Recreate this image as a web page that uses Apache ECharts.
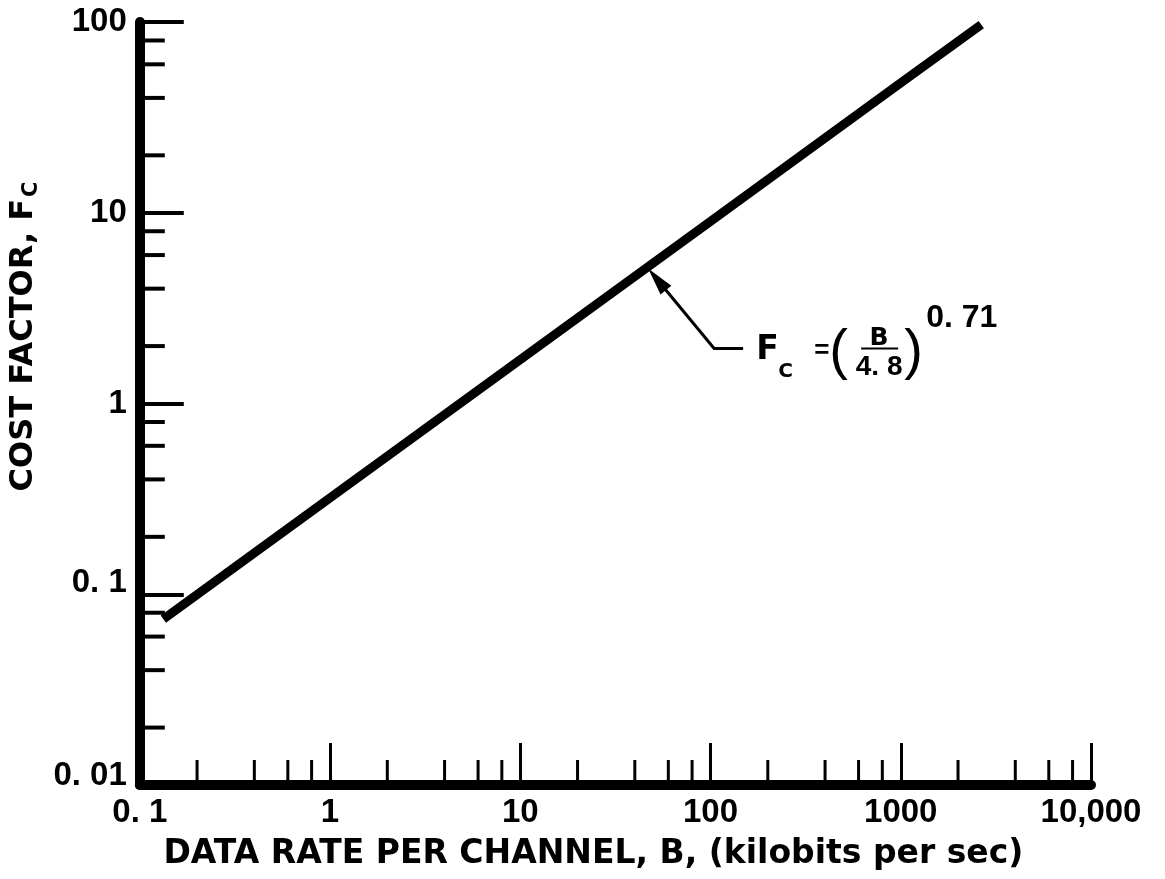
<!DOCTYPE html>
<html>
<head>
<meta charset="utf-8">
<script src="https://cdn.jsdelivr.net/npm/echarts@6/dist/echarts.min.js"></script>
<style>
  html, body { margin: 0; padding: 0; background: #ffffff; }
  #chart { width: 1165px; height: 879px; }
</style>
</head>
<body>
<div id="chart"></div>
<script>
// Cost factor against data rate per channel
const rateKbps   = [0.133, 1, 10, 100, 1000, 2650];
const costFactor = [0.074, 0.32, 1.7, 9.0, 48, 97];

// Decade ticks and their printed labels
const xTickValues = [0.1, 1, 10, 100, 1000, 10000];
const xTickLabels = ['0. 1', '1', '10', '100', '1000', '10,000'];
const yTickValues = [0.01, 0.1, 1, 10, 100];
const yTickLabels = ['0. 01', '0. 1', '1', '10', '100'];

// Intermediate (minor) tick mantissas within each decade
const minorMantissas = [2, 4, 6, 8];

// Point on the curve that the formula callout points at
const calloutPoint = [47, 5.1];

const X_MIN = 0.1, X_MAX = 10000, Y_MIN = 0.01, Y_MAX = 100;

function decadeMinors(lo, hi) {
  const out = [];
  for (let e = Math.round(Math.log10(lo)); e < Math.round(Math.log10(hi)); e++) {
    for (const m of minorMantissas) out.push(+(m * Math.pow(10, e)).toPrecision(6));
  }
  return out;
}
const xMinor = decadeMinors(X_MIN, X_MAX);
const yMinor = decadeMinors(Y_MIN, Y_MAX);

function indexOfTick(values, v) {
  for (let i = 0; i < values.length; i++) {
    if (Math.abs(Math.log10(v) - Math.log10(values[i])) < 1e-6) return i;
  }
  return -1;
}

const INK = '#000000';
const NUM_FONT = '"Liberation Sans", Arial, sans-serif';
const TITLE_FONT = '"DejaVu Sans", "Liberation Sans", sans-serif';
const LABEL_SIZE = 33;

const chart = echarts.init(document.getElementById('chart'), null, { renderer: 'canvas' });

const option = {
  backgroundColor: '#ffffff',
  animation: false,
  grid: { left: 133, right: 74, top: 22, bottom: 94, containLabel: false },
  xAxis: {
    type: 'log',
    logBase: 10,
    min: X_MIN,
    max: X_MAX,
    splitNumber: 5,
    name: 'DATA RATE PER CHANNEL, B, (kilobits per sec)',
    nameLocation: 'middle',
    nameGap: 53,
    nameTextStyle: {
      fontFamily: TITLE_FONT, fontWeight: 'bold', fontSize: 33, color: INK,
      padding: [0, 44, 0, 0]
    },
    axisLine: { show: true, lineStyle: { color: INK, width: 10 } },
    axisTick: { show: true, inside: true, length: 42, lineStyle: { color: INK, width: 3 } },
    minorTick: { show: false },
    splitLine: { show: false },
    axisLabel: {
      margin: 11,
      formatter: function (v) {
        const i = indexOfTick(xTickValues, v);
        return i < 0 ? '' : xTickLabels[i];
      },
      fontFamily: NUM_FONT, fontWeight: 'bold', fontSize: LABEL_SIZE, color: INK
    }
  },
  yAxis: {
    type: 'log',
    logBase: 10,
    min: Y_MIN,
    max: Y_MAX,
    splitNumber: 4,
    name: '{t|COST FACTOR, F}{s|C}',
    nameLocation: 'middle',
    nameRotate: 90,
    nameGap: 95,
    nameTextStyle: {
      color: INK,
      padding: [0, 0, 0, 134],
      rich: {
        t: { fontFamily: TITLE_FONT, fontWeight: 'bold', fontSize: 32, color: INK },
        s: { fontFamily: TITLE_FONT, fontWeight: 'bold', fontSize: 21, color: INK, padding: [16, 0, 0, 2] }
      }
    },
    axisLine: { show: true, lineStyle: { color: INK, width: 10 } },
    axisTick: { show: true, inside: true, length: 44, lineStyle: { color: INK, width: 4 } },
    minorTick: { show: false },
    splitLine: { show: false },
    axisLabel: {
      margin: 13,
      formatter: function (v) {
        const i = indexOfTick(yTickValues, v);
        if (i < 0) return '';
        // the two lowest labels sit a little above their ticks
        if (i === 0) return '{lo|' + yTickLabels[i] + '}';
        if (i === 1) return '{mid|' + yTickLabels[i] + '}';
        return yTickLabels[i];
      },
      fontFamily: NUM_FONT, fontWeight: 'bold', fontSize: LABEL_SIZE, color: INK,
      rich: {
        lo:  { fontFamily: NUM_FONT, fontWeight: 'bold', fontSize: LABEL_SIZE, color: INK, padding: [0, 0, 18, 0] },
        mid: { fontFamily: NUM_FONT, fontWeight: 'bold', fontSize: LABEL_SIZE, color: INK, padding: [0, 0, 22, 0] }
      }
    }
  },
  series: [
    {
      name: 'Cost factor',
      type: 'line',
      data: rateKbps.map((b, i) => [b, costFactor[i]]),
      showSymbol: false,
      symbol: 'none',
      clip: false,
      lineStyle: { color: INK, width: 9, cap: 'butt' },
      z: 3
    },
    {
      // Intermediate ticks along the bottom axis
      name: 'x minor ticks',
      type: 'custom',
      clip: false,
      silent: true,
      data: xMinor.map(v => [v, Y_MIN]),
      renderItem: function (params, api) {
        const p = api.coord([api.value(0), api.value(1)]);
        return {
          type: 'line',
          shape: { x1: p[0], y1: p[1], x2: p[0], y2: p[1] - 25 },
          style: { stroke: INK, lineWidth: 3 }
        };
      },
      z: 1
    },
    {
      // Intermediate ticks along the left axis
      name: 'y minor ticks',
      type: 'custom',
      clip: false,
      silent: true,
      data: yMinor.map(v => [X_MIN, v]),
      renderItem: function (params, api) {
        const p = api.coord([api.value(0), api.value(1)]);
        return {
          type: 'line',
          shape: { x1: p[0], y1: p[1], x2: p[0] + 25, y2: p[1] },
          style: { stroke: INK, lineWidth: 4 }
        };
      },
      z: 1
    }
  ]
};

chart.setOption(option);

// Formula callout: arrow from the curve to the expression F_C = (B / 4.8)^0.71
const tip = chart.convertToPixel({ gridIndex: 0 }, calloutPoint);
const elbow = [66, 80];
const dirLen = Math.hypot(elbow[0], elbow[1]);
const ux = elbow[0] / dirLen, uy = elbow[1] / dirLen;
const headLen = 28, headHalf = 7;
const bx = ux * headLen, by = uy * headLen;

chart.setOption({
  graphic: [
    {
      type: 'group',
      x: tip[0],
      y: tip[1],
      silent: true,
      children: [
        {
          type: 'polyline',
          shape: { points: [[bx * 0.6, by * 0.6], elbow, [elbow[0] + 29, elbow[1]]] },
          style: { stroke: INK, lineWidth: 3, fill: null }
        },
        {
          type: 'polygon',
          shape: { points: [[0, 0], [bx - uy * headHalf, by + ux * headHalf], [bx + uy * headHalf, by - ux * headHalf]] },
          style: { fill: INK }
        },
        {
          type: 'text', x: 108, y: 82,
          style: { text: 'F', fontFamily: TITLE_FONT, fontWeight: 'bold', fontSize: 33, fill: INK, align: 'left', verticalAlign: 'middle' }
        },
        {
          type: 'text', x: 130, y: 103,
          style: { text: 'C', fontFamily: TITLE_FONT, fontWeight: 'bold', fontSize: 20, fill: INK, align: 'left', verticalAlign: 'middle' }
        },
        {
          type: 'text', x: 166, y: 82,
          style: { text: '=', fontFamily: NUM_FONT, fontWeight: 'bold', fontSize: 26, fill: INK, align: 'left', verticalAlign: 'middle' }
        },
        {
          type: 'text', x: 181, y: 84,
          style: { text: '(', fontFamily: NUM_FONT, fontWeight: 'normal', fontSize: 56, fill: INK, align: 'left', verticalAlign: 'middle' }
        },
        {
          type: 'text', x: 231, y: 70,
          style: { text: 'B', fontFamily: TITLE_FONT, fontWeight: 'bold', fontSize: 25, fill: INK, align: 'center', verticalAlign: 'middle' }
        },
        {
          type: 'line',
          shape: { x1: 213, y1: 80, x2: 250, y2: 80 },
          style: { stroke: INK, lineWidth: 2 }
        },
        {
          type: 'text', x: 231, y: 99,
          style: { text: '4. 8', fontFamily: NUM_FONT, fontWeight: 'bold', fontSize: 28, fill: INK, align: 'center', verticalAlign: 'middle' }
        },
        {
          type: 'text', x: 256, y: 84,
          style: { text: ')', fontFamily: NUM_FONT, fontWeight: 'normal', fontSize: 56, fill: INK, align: 'left', verticalAlign: 'middle' }
        },
        {
          type: 'text', x: 278, y: 50,
          style: { text: '0. 71', fontFamily: NUM_FONT, fontWeight: 'bold', fontSize: 32, fill: INK, align: 'left', verticalAlign: 'middle' }
        }
      ]
    }
  ]
});
</script>
</body>
</html>
